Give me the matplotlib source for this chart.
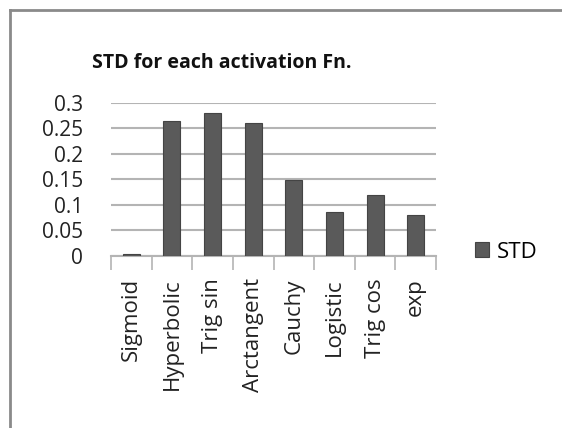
import matplotlib.pyplot as plt
from matplotlib.lines import Line2D
import numpy as np

# STD of each activation function
functions = ['Sigmoid', 'Hyperbolic', 'Trig sin', 'Arctangent',
             'Cauchy', 'Logistic', 'Trig cos', 'exp']
std_values = [0.003, 0.265, 0.281, 0.261, 0.149, 0.087, 0.120, 0.081]
y_ticks = [0, 0.05, 0.1, 0.15, 0.2, 0.25, 0.3]
y_tick_labels = ['0', '0.05', '0.1', '0.15', '0.2', '0.25', '0.3']

plt.rcParams['font.family'] = ['Open Sans', 'DejaVu Sans']

W, H = 562, 428
fig = plt.figure(figsize=(W / 100, H / 100), dpi=100)
ax = fig.add_axes([111 / W, 1 - 256 / H, (436 - 111) / W, (256 - 103) / H])

x = np.arange(len(functions))
ax.bar(x, std_values, width=0.42, color='#5a5a5a', edgecolor='#444444',
       linewidth=0.8, label='STD', zorder=3)

ax.set_xlim(-0.5, len(functions) - 0.5)
ax.set_ylim(0, 0.3)
ax.set_yticks(y_ticks)
ax.set_yticklabels(y_tick_labels)
ax.yaxis.grid(True, color='#b4b4b4', linewidth=1.5, zorder=0)
ax.set_axisbelow(True)

for side in ['top', 'right', 'left']:
    ax.spines[side].set_visible(False)
ax.spines['bottom'].set_color('#b4b4b4')
ax.spines['bottom'].set_linewidth(1.5)

# category boundary ticks on the x axis
ax.set_xticks(np.arange(-0.5, len(functions)), minor=True)
ax.tick_params(axis='x', which='minor', length=10, color='#b4b4b4', width=1.2)
ax.set_xticks(x)
ax.set_xticklabels(functions, rotation=90, fontsize=16, color='#222222')
ax.tick_params(axis='x', which='major', length=0, pad=16)
ax.tick_params(axis='y', length=0, labelsize=15, labelcolor='#222222', pad=20)

fig.text(222 / W, 1 - 63 / H, 'STD for each activation Fn.', ha='center',
         va='center', fontsize=14, fontweight='bold', color='#111111')

fig.legend(loc='center left', bbox_to_anchor=(475 / W, 1 - 252 / H),
           frameon=False, fontsize=16, handlelength=0.63, handleheight=0.63,
           handletextpad=0.36, borderaxespad=0, borderpad=0)

# chart frame edges
fig.add_artist(Line2D([10 / W, 10 / W], [0, 1 - 10 / H], transform=fig.transFigure,
                      color='#8a8a8a', linewidth=2))
fig.add_artist(Line2D([10 / W, 1], [1 - 10 / H, 1 - 10 / H], transform=fig.transFigure,
                      color='#8a8a8a', linewidth=2))

fig.savefig('out.png', dpi=100, facecolor='white')
